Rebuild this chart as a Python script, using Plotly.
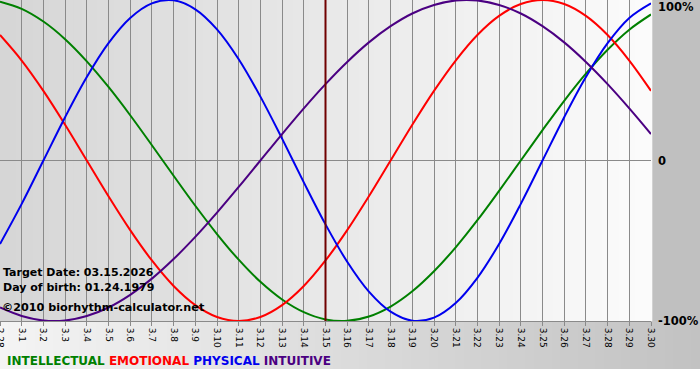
import plotly.graph_objects as go

# ---- data ----
days = ["2.28"] + [f"3.{d}" for d in range(1, 31)]

intellectual = [0.99, 0.945, 0.866, 0.756, 0.618, 0.458, 0.282, 0.095, -0.095, -0.282,
                -0.458, -0.618, -0.756, -0.866, -0.945, -0.990, -0.999, -0.972, -0.910, -0.815,
                -0.690, -0.541, -0.372, -0.189, 0.0, 0.189, 0.372, 0.541, 0.690, 0.815, 0.910]
emotional = [0.782, 0.623, 0.434, 0.223, 0.0, -0.223, -0.434, -0.623, -0.782, -0.901,
             -0.975, -1.0, -0.975, -0.901, -0.782, -0.623, -0.434, -0.223, 0.0, 0.223,
             0.434, 0.623, 0.782, 0.901, 0.975, 1.0, 0.975, 0.901, 0.782, 0.623, 0.434]
physical = [-0.520, -0.270, 0.0, 0.270, 0.520, 0.731, 0.888, 0.979, 0.998, 0.942,
            0.817, 0.631, 0.398, 0.136, -0.136, -0.398, -0.631, -0.817, -0.942, -0.998,
            -0.979, -0.888, -0.731, -0.520, -0.270, 0.0, 0.270, 0.520, 0.731, 0.888, 0.979]
intuitive = [-0.916, -0.969, -0.997, -0.997, -0.969, -0.916, -0.837, -0.736, -0.614, -0.476,
             -0.325, -0.165, 0.0, 0.165, 0.325, 0.476, 0.614, 0.736, 0.837, 0.916,
             0.969, 0.997, 0.997, 0.969, 0.916, 0.837, 0.736, 0.614, 0.476, 0.325, 0.165]

series_names = ["INTELLECTUAL", "EMOTIONAL", "PHYSICAL", "INTUITIVE"]
series_colors = ["#008000", "#ff0000", "#0000ee", "#4b0082"]

target_day = "3.15"
info_lines = ["Target Date: 03.15.2026", "Day of birth: 01.24.1979"]
credit = "©2010 biorhythm-calculator.net"

y_tick_pos = [-1, 0, 0.955]
y_tick_text = ["-100%", "0", "100%"]

# ---- figure ----
W, H = 700, 380
L, R, T, B = 0, 49, 0, 59
pw, ph = W - L - R, H - T - B

fig = go.Figure()
for name, vals, col in zip(series_names, [intellectual, emotional, physical, intuitive], series_colors):
    fig.add_trace(go.Scatter(x=days, y=vals, mode="lines", name=name,
                             line=dict(color=col, width=2, shape="spline", smoothing=1.0),
                             hoverinfo="skip"))

shapes = []
# plot-area gradient (light grey on left to near-white on right)
n = 80
for i in range(n):
    f = i / (n - 1)
    c = int(round(214 + (251 - 214) * f))
    shapes.append(dict(type="rect", xref="paper", yref="paper",
                       x0=i / n, x1=(i + 1) / n + 0.002, y0=0, y1=1,
                       fillcolor=f"rgb({c},{c},{c})", line=dict(width=0), layer="below"))
# bottom band gradient (light on left to grey on right)
xr = W / pw
yb0 = -(369 - ph) / ph
for i in range(n):
    f = i / (n - 1)
    c = int(round(244 + (194 - 244) * f))
    shapes.append(dict(type="rect", xref="paper", yref="paper",
                       x0=xr * i / n, x1=xr * (i + 1) / n + 0.002, y0=yb0, y1=0,
                       fillcolor=f"rgb({c},{c},{c})", line=dict(width=0), layer="below"))
# white strip at the very bottom
shapes.append(dict(type="rect", xref="paper", yref="paper", x0=0, x1=xr,
                   y0=-B / ph - 0.01, y1=yb0, fillcolor="#ffffff", line=dict(width=0), layer="below"))
# target day marker
ti = days.index(target_day)
shapes.append(dict(type="line", xref="x", yref="paper", x0=ti, x1=ti,
                   y0=0, y1=1, line=dict(color="#700000", width=2), layer="above"))

annotations = []
font_b = "DejaVu Sans"
for k, txt in enumerate(info_lines):
    py = 272 + 15 * k
    annotations.append(dict(xref="paper", yref="paper", x=1 / pw, y=(ph - py) / ph,
                            xanchor="left", yanchor="middle", showarrow=False,
                            text=f"<b>{txt}</b>", font=dict(family=font_b, size=11, color="#000")))
annotations.append(dict(xref="paper", yref="paper", x=0, y=(ph - 307) / ph,
                        xanchor="left", yanchor="middle", showarrow=False,
                        text=f"<b>{credit}</b>", font=dict(family=font_b, size=11.2, color="#000")))
legend_html = " ".join(f"<span style='color:{c}'>{nm}</span>" for nm, c in zip(series_names, series_colors))
annotations.append(dict(xref="paper", yref="paper", x=5 / pw, y=(ph - 361) / ph,
                        xanchor="left", yanchor="middle", showarrow=False,
                        text=f"<b>{legend_html}</b>", font=dict(family=font_b, size=12)))

fig.update_layout(
    width=W, height=H, margin=dict(l=L, r=R, t=T, b=B, pad=0, autoexpand=False),
    paper_bgcolor="#c0c0c0", plot_bgcolor="rgba(0,0,0,0)",
    showlegend=False, shapes=shapes, annotations=annotations,
    xaxis=dict(type="category", range=[0, len(days) - 1], tickmode="array", tickvals=days,
               ticktext=days, tickangle=90, tickfont=dict(family="DejaVu Sans", size=9, color="#000"),
               showgrid=True, gridcolor="#8a8a8a", gridwidth=1, ticks="outside", ticklen=4,
               tickcolor="#8a8a8a", showline=True, linecolor="#8a8a8a", linewidth=1,
               zeroline=False, fixedrange=True, automargin=False),
    yaxis=dict(range=[-1, 1], side="right", tickmode="array", tickvals=y_tick_pos,
               ticktext=y_tick_text, tickfont=dict(family="DejaVu Sans", size=11.5, color="#000", weight="bold"),
               showgrid=False, zeroline=True, zerolinecolor="#8a8a8a", zerolinewidth=1,
               ticks="", ticklabelstandoff=6, showline=False, fixedrange=True, automargin=False),
)

fig.write_html("out.html", config={"displayModeBar": False},
               post_script="document.body.style.margin='0';document.body.style.overflow='hidden';")
